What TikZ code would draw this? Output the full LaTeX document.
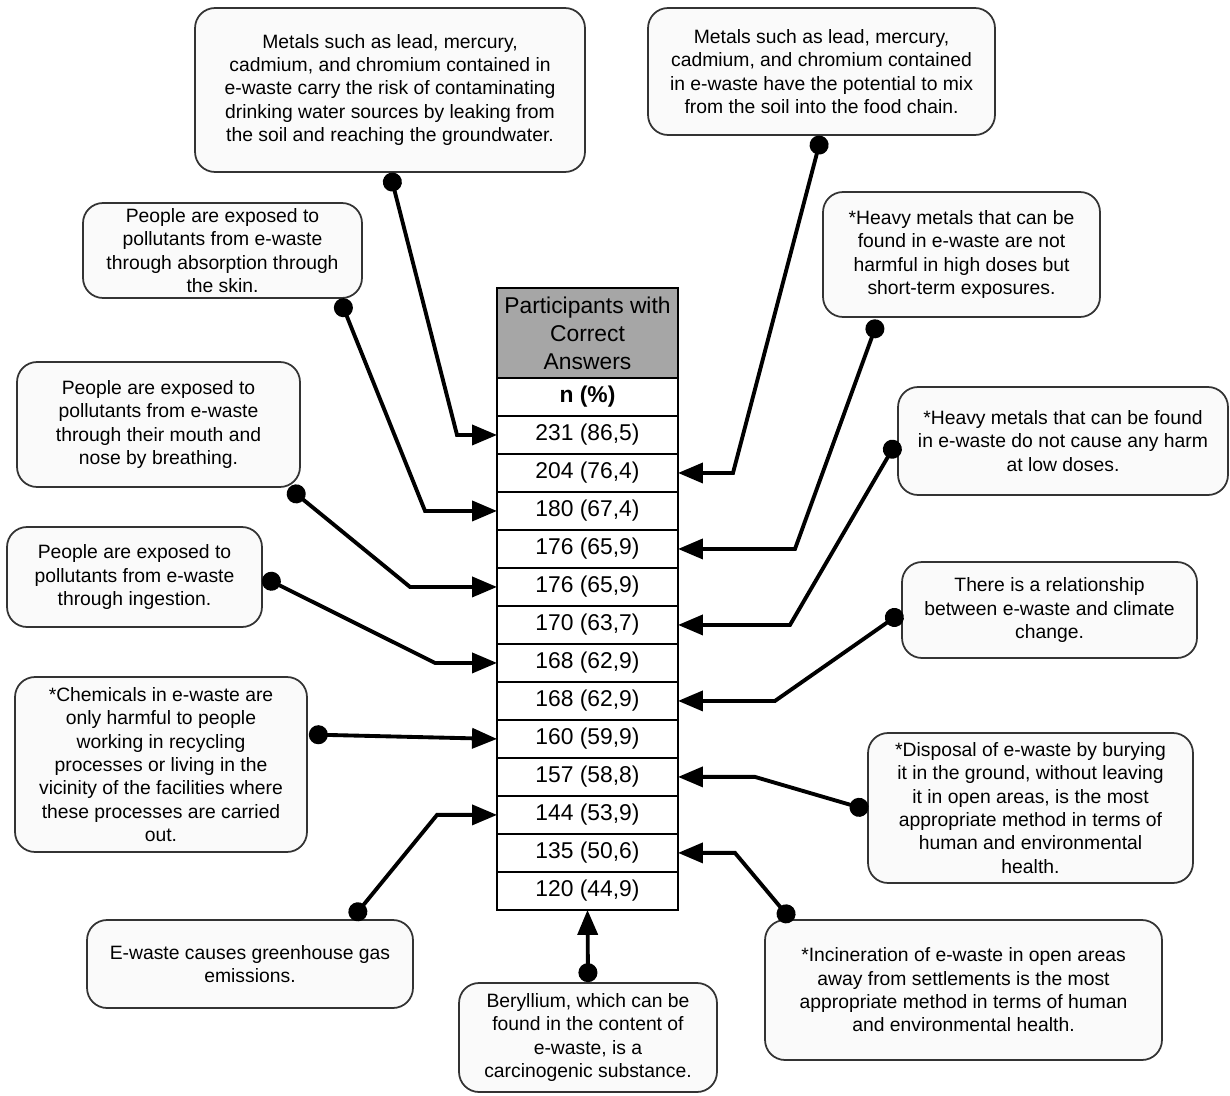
\documentclass[tikz,border=0pt]{standalone}
\usepackage{fontspec}
\setmainfont{Liberation Sans}
\usepackage{tikz}
\usetikzlibrary{positioning, arrows.meta, calc}
\usepackage{xcolor}
\definecolor{headgray}{HTML}{A6A6A6}
\definecolor{notefill}{HTML}{FAFAFA}
\definecolor{noteline}{HTML}{333333}

\begin{document}
\begin{tikzpicture}[
  x=0.02cm, y=-0.02cm,
  node distance=0pt,
  note/.style={draw=noteline, line width=1pt, fill=notefill, rounded corners=0.4cm,
               align=center, inner sep=2pt, font=\fontsize{11}{13.3}\selectfont},
  cell/.style={draw, line width=1.2pt, minimum width=3.62cm, minimum height=0.76cm,
               inner sep=0pt, outer sep=0pt, font=\fontsize{13}{15}\selectfont},
  conn/.style={{Circle[length=0.38cm]}-{Triangle[length=0.5cm,width=0.4cm]}, line width=2.2pt},
]
  \useasboundingbox (0,0) rectangle (1230,1095);
  % Table
  \node[cell, fill=headgray, minimum height=1.8cm, align=center,
        font=\fontsize{13}{16}\selectfont] (head) at (587.5,333) {Participants with\\Correct\\Answers};
  \node[cell, below=of head, font=\fontsize{13}{15}\selectfont\bfseries] (n) {n (\%)};
  \node[cell, below=of n] (r1) {231 (86,5)};
  \node[cell, below=of r1] (r2) {204 (76,4)};
  \node[cell, below=of r2] (r3) {180 (67,4)};
  \node[cell, below=of r3] (r4) {176 (65,9)};
  \node[cell, below=of r4] (r5) {176 (65,9)};
  \node[cell, below=of r5] (r6) {170 (63,7)};
  \node[cell, below=of r6] (r7) {168 (62,9)};
  \node[cell, below=of r7] (r8) {168 (62,9)};
  \node[cell, below=of r8] (r9) {160 (59,9)};
  \node[cell, below=of r9] (r10) {157 (58,8)};
  \node[cell, below=of r10] (r11) {144 (53,9)};
  \node[cell, below=of r11] (r12) {135 (50,6)};
  \node[cell, below=of r12] (r13) {120 (44,9)};
  % Statements, left side
  \node[note, minimum width=7.8cm, minimum height=3.28cm] (m1) at (390,90)
    {Metals such as lead, mercury,\\cadmium, and chromium contained in\\e-waste carry the risk of contaminating\\drinking water sources by leaking from\\the soil and reaching the groundwater.};
  \node[note, minimum width=5.58cm, minimum height=1.9cm] (m3) at (222.5,250.5)
    {People are exposed to\\pollutants from e-waste\\through absorption through\\the skin.};
  \node[note, minimum width=5.66cm, minimum height=2.5cm] (m5) at (158.5,424.5)
    {People are exposed to\\pollutants from e-waste\\through their mouth and\\nose by breathing.};
  \node[note, minimum width=5.1cm, minimum height=2.0cm] (m7) at (134.5,577)
    {People are exposed to\\pollutants from e-waste\\through ingestion.};
  \node[note, minimum width=5.84cm, minimum height=3.5cm] (m9) at (161,764.5)
    {*Chemicals in e-waste are\\only harmful to people\\working in recycling\\processes or living in the\\vicinity of the facilities where\\these processes are carried\\out.};
  \node[note, minimum width=6.52cm, minimum height=1.76cm] (m11) at (250,964)
    {E-waste causes greenhouse gas\\emissions.};
  % Statements, right side
  \node[note, minimum width=6.94cm, minimum height=2.54cm] (m2) at (821.5,71.5)
    {Metals such as lead, mercury,\\cadmium, and chromium contained\\in e-waste have the potential to mix\\from the soil into the food chain.};
  \node[note, minimum width=5.54cm, minimum height=2.5cm] (m4) at (961.5,254.5)
    {*Heavy metals that can be\\found in e-waste are not\\harmful in high doses but\\short-term exposures.};
  \node[note, minimum width=6.6cm, minimum height=2.16cm] (m6) at (1063,441)
    {*Heavy metals that can be found\\in e-waste do not cause any harm\\at low doses.};
  \node[note, minimum width=5.9cm, minimum height=1.92cm] (m8) at (1049.5,610)
    {There is a relationship\\between e-waste and climate\\change.};
  \node[note, minimum width=6.5cm, minimum height=3.0cm] (m10) at (1030.5,808)
    {*Disposal of e-waste by burying\\it in the ground, without leaving\\it in open areas, is the most\\appropriate method in terms of\\human and environmental\\health.};
  \node[note, minimum width=7.94cm, minimum height=2.8cm] (m12) at (963.5,990)
    {*Incineration of e-waste in open areas\\away from settlements is the most\\appropriate method in terms of human\\and environmental health.};
  % Statement, bottom
  \node[note, minimum width=5.16cm, minimum height=2.18cm] (m13) at (588,1037.5)
    {Beryllium, which can be\\found in the content of\\e-waste, is a\\carcinogenic substance.};
  % Connectors
  \draw[conn] (m1.south) -- ($(r1.west)+(-40,0)$) -- (r1.west);
  \draw[conn] (m2.south) -- ($(r2.east)+(55,0)$) -- (r2.east);
  \draw[conn] ($(m3.south east)+(-23,0)$) -- ($(r3.west)+(-72,0)$) -- (r3.west);
  \draw[conn] ($(m4.south west)+(56,2)$) -- ($(r4.east)+(117,0)$) -- (r4.east);
  \draw[conn] ($(m5.south east)+(-12,0)$) -- ($(r5.west)+(-87,0)$) -- (r5.west);
  \draw[conn] (m6.west) -- ($(r6.east)+(112,0)$) -- (r6.east);
  \draw[conn] (m7.east) -- ($(r7.west)+(-62,0)$) -- (r7.west);
  \draw[conn] ($(m8.west)+(1,2)$) -- ($(r8.east)+(97,0)$) -- (r8.east);
  \draw[conn] ($(m9.east)+(1,-30)$) -- (r9.west);
  \draw[conn] ($(m10.west)+(1,2)$) -- ($(r10.east)+(77,0)$) -- (r10.east);
  \draw[conn] ($(m11.north east)+(-62,0)$) -- ($(r11.west)+(-60,0)$) -- (r11.west);
  \draw[conn] ($(m12.north west)+(28,2)$) -- ($(r12.east)+(57,0)$) -- (r12.east);
  \draw[conn] (m13.north) -- (r13.south);
\end{tikzpicture}
\end{document}
